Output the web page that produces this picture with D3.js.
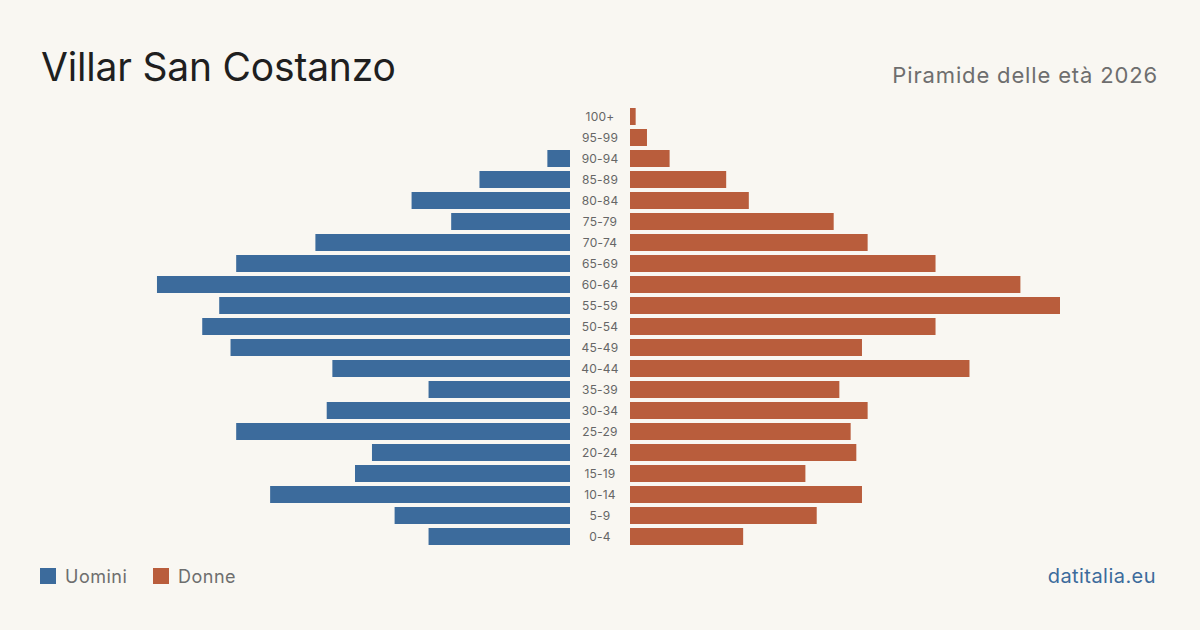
<!DOCTYPE html>
<html>
<head>
<meta charset="utf-8">
<script src="https://cdn.jsdelivr.net/npm/d3@7"></script>
<style>
  html, body { margin: 0; padding: 0; background: #f9f7f2; }
  svg { display: block; }
  text { font-family: Inter, "Noto Sans", sans-serif; }
</style>
</head>
<body>
<svg id="chart" width="1200" height="630"></svg>
<script>
const ageGroups = ["100+","95-99","90-94","85-89","80-84","75-79","70-74","65-69","60-64","55-59","50-54","45-49","40-44","35-39","30-34","25-29","20-24","15-19","10-14","5-9","0-4"];
const maleValues = [0,0,4,16,28,21,45,59,73,62,65,60,42,25,43,59,35,38,53,31,25];
const femaleValues = [1,3,7,17,21,36,42,54,69,76,54,41,60,37,42,39,40,31,41,33,20];
const seriesNames = ["Uomini","Donne"];
const title = "Villar San Costanzo";
const subtitle = "Piramide delle età 2026";
const source = "datitalia.eu";

const colors = { male: "#3c6b9c", female: "#b95d3c" };
const svg = d3.select("#chart");
svg.append("rect").attr("width",1200).attr("height",630).attr("fill","#f9f7f2");

const maxVal = d3.max([...maleValues, ...femaleValues]);
const y = d3.scaleBand().domain(ageGroups).range([106, 547]).paddingInner(4/21).paddingOuter(2/21);
const xR = d3.scaleLinear().domain([0, maxVal]).range([630, 1060]);
const xL = d3.scaleLinear().domain([0, maxVal]).range([570, 140]);

svg.append("g").selectAll("rect").data(ageGroups).join("rect")
  .attr("x", (d,i) => xL(maleValues[i]))
  .attr("y", d => y(d))
  .attr("width", (d,i) => xL(0) - xL(maleValues[i]))
  .attr("height", y.bandwidth())
  .attr("fill", colors.male);

svg.append("g").selectAll("rect").data(ageGroups).join("rect")
  .attr("x", xR(0))
  .attr("y", d => y(d))
  .attr("width", (d,i) => xR(femaleValues[i]) - xR(0))
  .attr("height", y.bandwidth())
  .attr("fill", colors.female);

svg.append("g").selectAll("text").data(ageGroups).join("text")
  .attr("x", 600)
  .attr("y", d => y(d) + y.bandwidth()/2)
  .attr("dy", "0.35em")
  .attr("text-anchor", "middle")
  .attr("font-size", 12)
  .attr("letter-spacing", 0.2)
  .attr("fill", "#666")
  .text(d => d);

svg.append("text").attr("x", 41).attr("y", 81).attr("font-size", 39).attr("letter-spacing", -0.2).attr("fill", "#1f1f1f").text(title);
svg.append("text").attr("x", 1158).attr("y", 83).attr("text-anchor","end").attr("font-size", 22).attr("letter-spacing", 0.85).attr("fill", "#6e6e6e").text(subtitle);

const legend = svg.append("g");
const legX = [40, 153];
seriesNames.forEach((n,i) => {
  legend.append("rect").attr("x", legX[i]).attr("y", 568).attr("width", 16).attr("height", 16).attr("fill", i===0?colors.male:colors.female);
  legend.append("text").attr("x", legX[i]+25).attr("y", 583).attr("font-size", 18).attr("letter-spacing", 0.5).attr("fill", "#6e6e6e").text(n);
});

svg.append("text").attr("x", 1156).attr("y", 583).attr("text-anchor","end").attr("font-size", 20).attr("letter-spacing", 0.45).attr("fill", "#3c6b9c").text(source);
</script>
</body>
</html>
